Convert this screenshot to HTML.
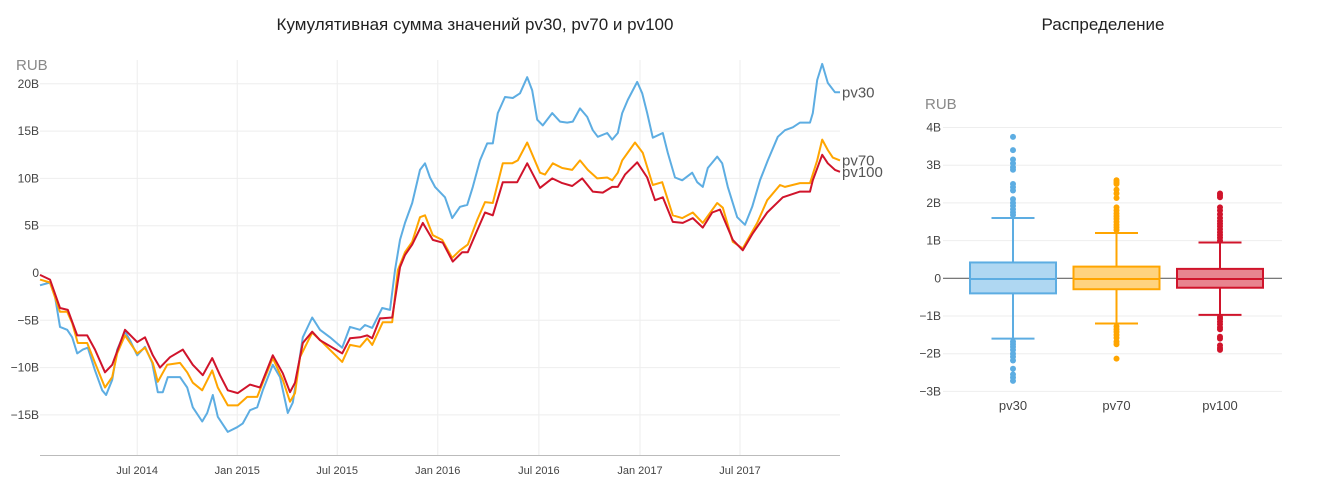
<!DOCTYPE html>
<html><head><meta charset="utf-8">
<style>
body{margin:0;background:#fff;font-family:"Liberation Sans","DejaVu Sans",sans-serif;}
svg{display:block}
</style></head>
<body>
<svg id="chart" width="1319" height="491" viewBox="0 0 1319 491" xmlns="http://www.w3.org/2000/svg" font-family="Liberation Sans, DejaVu Sans, sans-serif">
<text x="475" y="30" text-anchor="middle" font-size="17" fill="#222">Кумулятивная сумма значений pv30, pv70 и pv100</text>
<text x="1103" y="30" text-anchor="middle" font-size="17" fill="#222">Распределение</text>
<text x="16" y="70" font-size="15" fill="#888">RUB</text>
<text x="925" y="109" font-size="15" fill="#888">RUB</text>
<g id="lineGrid"></g>
<g id="lineSeries"></g>
<g id="boxGrid"></g>
<g id="boxes"></g>
</svg>
<script>
// ---- line chart data: days since start, values in billions RUB ----
const pv30Days=[0,18,27,36,49,58,67,77,86,99,112,119,130,139,153,162,175,189,202,212,221,230,252,265,275,292,301,311,320,338,355,365,378,391,401,419,432,446,455,464,473,490,504,522,544,558,576,585,598,616,630,639,648,657,670,684,693,702,711,729,742,756,769,779,792,805,815,824,837,851,864,877,886,895,905,922,936,949,959,972,985,995,1004,1021,1030,1040,1048,1058,1075,1084,1093,1103,1121,1130,1143,1156,1174,1183,1193,1202,1219,1228,1238,1255,1269,1282,1296,1310,1328,1341,1355,1368,1386,1391,1399,1408,1418,1431,1440];
const pv30Vals=[-1.3,-1.0,-2.5,-5.7,-6.0,-6.8,-8.5,-8.1,-7.9,-10.3,-12.4,-12.9,-11.3,-8.1,-6.2,-7.1,-8.7,-7.8,-9.5,-12.6,-12.6,-11.0,-11.0,-12.1,-14.2,-15.7,-14.8,-12.9,-15.2,-16.8,-16.3,-15.9,-14.5,-14.2,-12.4,-9.7,-11.0,-14.8,-13.7,-10.3,-6.8,-4.7,-6.0,-6.8,-7.9,-5.7,-6.0,-5.5,-5.8,-3.7,-3.9,0.3,3.5,5.3,7.4,10.9,11.6,10.1,9.1,8.0,5.8,7.0,7.2,9.1,11.9,13.7,13.7,16.9,18.6,18.5,19.0,20.7,19.3,16.2,15.6,16.9,16.0,15.9,16.0,17.4,16.5,15.1,14.4,14.8,14.1,14.8,16.9,18.3,20.2,19.0,16.9,14.3,14.8,12.7,10.1,9.8,10.6,9.6,9.1,11.1,12.3,11.6,9.1,5.9,5.1,7.0,9.8,11.9,14.4,15.1,15.4,15.9,15.9,16.9,20.4,22.1,20.1,19.1,19.1];
const pv70Days=[0,18,36,49,58,68,85,99,117,130,139,153,175,189,203,212,229,252,265,275,292,310,320,338,356,373,391,401,419,437,450,459,468,490,508,544,558,576,589,598,617,634,644,657,670,684,693,707,724,742,756,770,787,801,815,833,850,860,877,900,909,923,940,958,972,986,1003,1021,1030,1040,1048,1071,1085,1103,1120,1139,1156,1175,1193,1219,1229,1247,1265,1291,1309,1332,1341,1368,1386,1399,1408,1418,1427,1440];
const pv70Vals=[-0.7,-1.0,-4.1,-4.1,-5.3,-7.4,-7.4,-9.5,-12.1,-11.0,-8.5,-6.6,-8.5,-7.9,-9.5,-11.5,-9.7,-9.5,-10.5,-11.6,-12.4,-10.3,-12.1,-14.0,-14.0,-13.1,-13.1,-11.6,-9.0,-11.3,-13.6,-12.7,-8.9,-6.3,-7.3,-9.4,-7.6,-7.8,-6.9,-7.6,-5.2,-5.2,0.3,2.2,3.3,5.9,6.1,4.0,3.5,1.6,2.4,3.0,5.6,7.5,7.4,11.6,11.6,11.9,13.8,10.6,10.4,11.6,11.1,10.9,11.9,10.9,10.0,10.1,9.8,10.6,11.9,13.8,12.7,9.3,9.6,6.1,5.8,6.4,5.3,7.4,6.9,3.3,2.6,5.3,7.7,9.3,9.1,9.5,9.5,11.9,14.1,13.0,12.2,11.9];
const pv100Days=[0,18,36,50,67,85,99,117,130,153,175,189,203,216,234,257,275,293,310,324,338,356,378,396,419,437,450,459,473,490,504,544,558,576,589,598,612,634,648,657,670,689,707,725,743,760,770,787,801,815,833,859,877,900,922,940,958,976,995,1013,1030,1040,1053,1075,1093,1107,1121,1139,1157,1175,1193,1210,1224,1247,1265,1283,1309,1337,1368,1386,1391,1408,1418,1431,1440];
const pv100Vals=[-0.2,-0.7,-3.7,-3.9,-6.6,-6.6,-8.1,-10.5,-9.7,-6.0,-7.3,-6.8,-8.7,-10.0,-8.9,-8.1,-9.7,-10.8,-9.0,-10.8,-12.4,-12.7,-11.8,-12.1,-8.7,-10.6,-12.6,-11.6,-7.4,-6.2,-7.1,-8.5,-6.9,-6.8,-6.6,-6.9,-4.8,-4.7,0.6,1.9,3.0,5.3,3.5,3.2,1.2,2.2,2.2,4.5,6.4,6.1,9.6,9.6,11.6,9.0,10.0,9.5,9.2,10.0,8.6,8.5,9.1,9.1,10.4,11.7,10.1,7.7,8.0,5.4,5.3,5.8,4.8,6.4,6.7,3.5,2.4,4.2,6.4,8.0,8.6,8.6,9.8,12.5,11.6,10.9,10.7];
const yTicks=[20,15,10,5,0,-5,-10,-15];
const yTickLabels=["20B","15B","10B","5B","0","−5B","−10B","−15B"];
const xTickDays=[175,355,535,716,898,1080,1260];
const xTickLabels=["Jul 2014","Jan 2015","Jul 2015","Jan 2016","Jul 2016","Jan 2017","Jul 2017"];
const seriesNames=["pv30","pv70","pv100"];

// ---- box plot data (billions) ----
const boxCategories=["pv30","pv70","pv100"];
const boxQ1=[-0.40,-0.29,-0.25];
const boxMedian=[-0.02,-0.02,-0.02];
const boxQ3=[0.42,0.31,0.25];
const whiskerLow=[-1.6,-1.2,-0.97];
const whiskerHigh=[1.6,1.2,0.95];
const outliersPv30=[3.75,3.4,3.15,3.05,2.95,2.88,2.5,2.42,2.33,2.1,2.0,1.92,1.83,1.75,1.68,-1.68,-1.75,-1.82,-1.9,-2.0,-2.08,-2.18,-2.4,-2.55,-2.63,-2.72];
const outliersPv70=[2.6,2.55,2.5,2.35,2.25,2.13,1.88,1.8,1.72,1.65,1.58,1.5,1.42,1.35,1.28,-1.28,-1.35,-1.42,-1.5,-1.58,-1.68,-1.75,-2.13];
const outliersPv100=[2.25,2.2,2.15,1.88,1.8,1.7,1.6,1.52,1.45,1.38,1.3,1.22,1.15,1.08,1.0,-1.03,-1.08,-1.15,-1.22,-1.3,-1.35,-1.55,-1.6,-1.78,-1.85,-1.9];
const boxTicks=[4,3,2,1,0,-1,-2,-3];
const boxTickLabels=["4B","3B","2B","1B","0","−1B","−2B","−3B"];

const NS="http://www.w3.org/2000/svg";
function mk(tag,attrs,parent){const e=document.createElementNS(NS,tag);for(const k in attrs)e.setAttribute(k,attrs[k]);parent.appendChild(e);return e;}

// line chart axes
const xL=d=>40+d/1.8;
const yL=v=>273-v*9.46;
const lg=document.getElementById('lineGrid');
yTicks.forEach((t,i)=>{
  const l=mk('line',{x1:40,x2:840,y1:yL(t),y2:yL(t),stroke:'#eeeeee','stroke-width':1},lg);
  
  
  const tx=mk('text',{x:39,y:yL(t)+4,'text-anchor':'end','font-size':12,fill:'#444'},lg);
  tx.textContent=yTickLabels[i];
  
  
});
xTickDays.forEach((d,i)=>{
  const l=mk('line',{x1:xL(d),x2:xL(d),y1:60,y2:455,stroke:'#eeeeee','stroke-width':1},lg);
  
  
  const tx=mk('text',{x:xL(d),y:474,'text-anchor':'middle','font-size':11,fill:'#444'},lg);
  tx.textContent=xTickLabels[i];
  
  
});
const ax=mk('line',{x1:40,x2:840,y1:455.5,y2:455.5,stroke:'#bbb','stroke-width':1},lg);



const ls=document.getElementById('lineSeries');
const seriesDays=[pv30Days,pv70Days,pv100Days];
const seriesVals=[pv30Vals,pv70Vals,pv100Vals];
const colors=['#5dade2','#ffa500','#d0142b'];
seriesVals.forEach((vals,s)=>{
  const days=seriesDays[s];
  const pts=vals.map((v,i)=>xL(days[i]).toFixed(1)+','+yL(v).toFixed(1)).join(' ');
  const p=mk('polyline',{points:pts,fill:'none',stroke:colors[s],'stroke-width':2,'stroke-linejoin':'round'},ls);
  
  
  const last=vals[vals.length-1];
  const tx=mk('text',{x:842,y:yL(last)+5,'font-size':15,fill:'#555'},ls);
  tx.textContent=seriesNames[s];
  
  
});

// box plot
const yB=v=>278.3-v*37.7;
const xB=i=>1013+i*103.5;
const bg=document.getElementById('boxGrid');
boxTicks.forEach((t,i)=>{
  const l=mk('line',{x1:943,x2:1282,y1:yB(t),y2:yB(t),stroke:t===0?'#666':'#eeeeee','stroke-width':t===0?1.2:1},bg);
  
  
  const tx=mk('text',{x:941,y:yB(t)+4,'text-anchor':'end','font-size':12,fill:'#444'},bg);
  tx.textContent=boxTickLabels[i];
  
  
});
const bx=document.getElementById('boxes');
const fills=['#afd7f2','#ffd37f','#e8848f'];
const outs=[outliersPv30,outliersPv70,outliersPv100];
boxCategories.forEach((c,i)=>{
  const g=mk('g',{},bx);
  
  
  const cx=xB(i),hw=43,cw=21.5,col=colors[i];
  mk('line',{x1:cx,x2:cx,y1:yB(whiskerHigh[i]),y2:yB(boxQ3[i]),stroke:col,'stroke-width':2},g);
  mk('line',{x1:cx,x2:cx,y1:yB(boxQ1[i]),y2:yB(whiskerLow[i]),stroke:col,'stroke-width':2},g);
  mk('line',{x1:cx-cw,x2:cx+cw,y1:yB(whiskerHigh[i]),y2:yB(whiskerHigh[i]),stroke:col,'stroke-width':2},g);
  mk('line',{x1:cx-cw,x2:cx+cw,y1:yB(whiskerLow[i]),y2:yB(whiskerLow[i]),stroke:col,'stroke-width':2},g);
  mk('rect',{x:cx-hw,y:yB(boxQ3[i]),width:hw*2,height:yB(boxQ1[i])-yB(boxQ3[i]),fill:fills[i],stroke:col,'stroke-width':2},g);
  mk('line',{x1:cx-hw,x2:cx+hw,y1:yB(boxMedian[i]),y2:yB(boxMedian[i]),stroke:col,'stroke-width':2},g);
  outs[i].forEach(v=>{
    const d=mk('circle',{cx:cx,cy:yB(v),r:3,fill:col},g);
    
    
  });
  const tx=mk('text',{x:cx,y:410,'text-anchor':'middle','font-size':13,fill:'#444'},bx);
  tx.textContent=c;
  
  
});
</script>
</body></html>
